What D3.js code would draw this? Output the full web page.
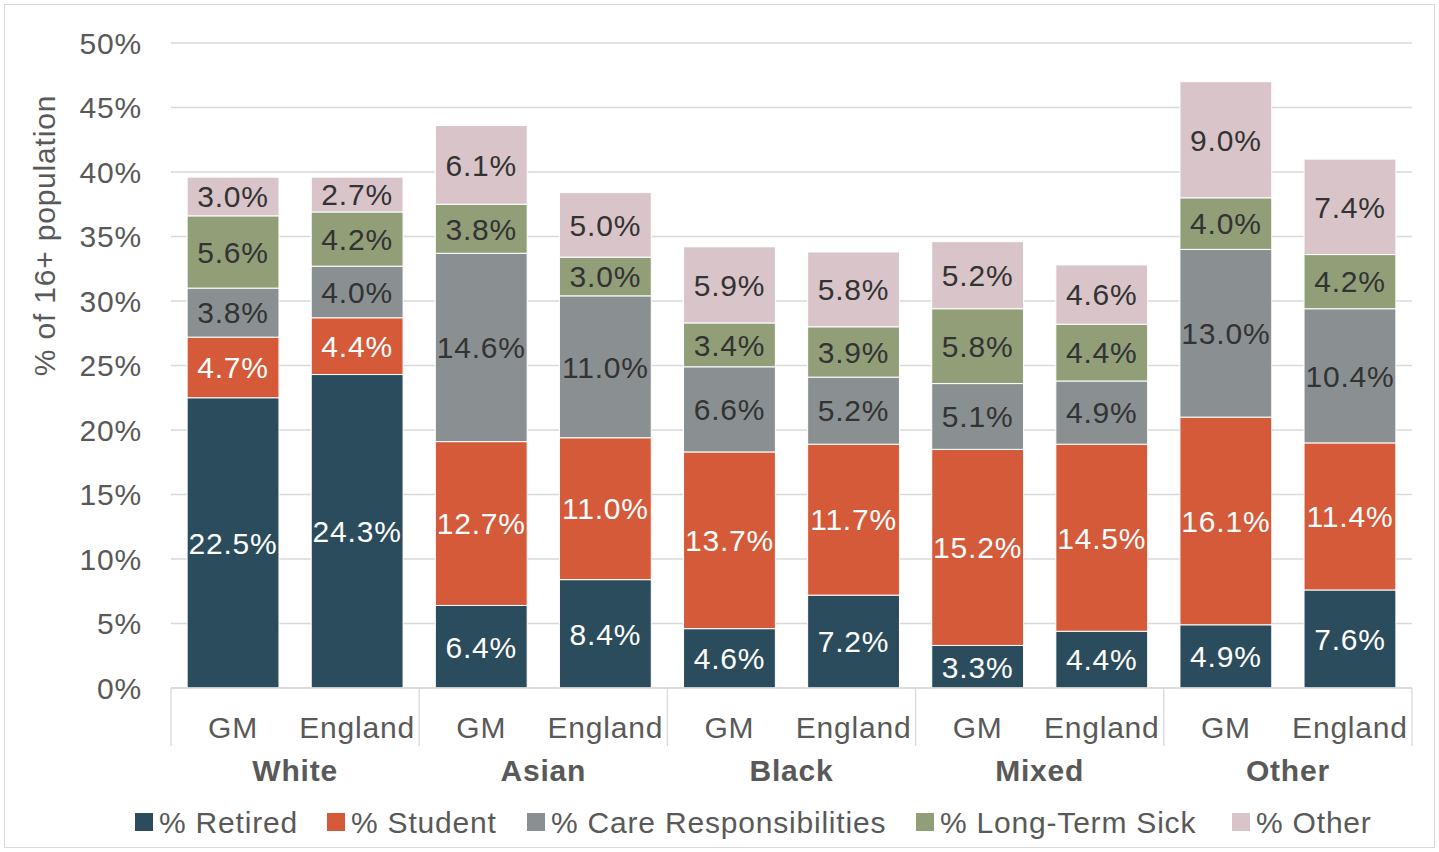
<!DOCTYPE html>
<html><head><meta charset="utf-8">
<script src="https://cdn.jsdelivr.net/npm/d3@7"></script>
<style>body{margin:0;background:#fff}svg{font-family:"Liberation Sans",Arial,sans-serif;letter-spacing:0.8px}</style>
</head><body>
<script>
// === DATA ===
const groups = ["White", "Asian", "Black", "Mixed", "Other"];
const areas = ["GM", "England"];
const seriesNames = ["% Retired", "% Student", "% Care Responsibilities", "% Long-Term Sick", "% Other"];
const retired = [22.5, 24.3, 6.4, 8.4, 4.6, 7.2, 3.3, 4.4, 4.9, 7.6];
const student = [4.7, 4.4, 12.7, 11.0, 13.7, 11.7, 15.2, 14.5, 16.1, 11.4];
const care = [3.8, 4.0, 14.6, 11.0, 6.6, 5.2, 5.1, 4.9, 13.0, 10.4];
const sick = [5.6, 4.2, 3.8, 3.0, 3.4, 3.9, 5.8, 4.4, 4.0, 4.2];
const other = [3.0, 2.7, 6.1, 5.0, 5.9, 5.8, 5.2, 4.6, 9.0, 7.4];
const yTicks = [0, 5, 10, 15, 20, 25, 30, 35, 40, 45, 50];

const colors = ["#2b4c5c", "#d45a3a", "#8a9091", "#919e78", "#d9c5c9"];
const textColors = ["#fff", "#fff", "#333", "#333", "#333"];

const W = 1439, H = 852;
const plotL = 171, plotR = 1412, plotT = 43, plotB = 688;

const rows = [];
groups.forEach((g, gi) => areas.forEach((a, ai) => {
  const i = gi * 2 + ai;
  rows.push({ key: g + "|" + a, group: g, area: a,
    values: [retired[i], student[i], care[i], sick[i], other[i]] });
}));

const svg = d3.select("body").append("svg").attr("width", W).attr("height", H);
svg.append("rect").attr("x", 4.5).attr("y", 4.5).attr("width", W - 9).attr("height", H - 9)
  .attr("fill", "none").attr("stroke", "#d9d9d9");

const x = d3.scaleBand().domain(rows.map(d => d.key)).range([plotL, plotR]).paddingInner(0.26).paddingOuter(0.13);
const y = d3.scaleLinear().domain([0, 50]).range([plotB, plotT]);

// gridlines + y labels
svg.append("g").selectAll("line").data(yTicks).join("line")
  .attr("x1", plotL).attr("x2", plotR).attr("y1", d => y(d)).attr("y2", d => y(d))
  .attr("stroke", "#d9d9d9").attr("stroke-width", 1.3);
svg.append("g").selectAll("text").data(yTicks).join("text")
  .attr("x", 142).attr("y", d => y(d)).attr("dy", "0.35em").attr("text-anchor", "end")
  .attr("font-size", 30).attr("fill", "#595959").text(d => d + "%");

svg.append("text").attr("transform", `translate(55,${(plotT + plotB) / 2 - 130}) rotate(-90)`)
  .attr("text-anchor", "middle").attr("font-size", 30).attr("fill", "#595959").text("% of 16+ population");

// stacked bars
const bars = svg.append("g").selectAll("g").data(rows).join("g");
bars.each(function (d) {
  let acc = 0;
  const segs = d.values.map((v, k) => { const s = { v, k, y0: acc, y1: acc + v }; acc += v; return s; });
  const g = d3.select(this);
  g.selectAll("rect").data(segs).join("rect")
    .attr("x", x(d.key)).attr("width", x.bandwidth())
    .attr("y", s => y(s.y1)).attr("height", s => y(s.y0) - y(s.y1))
    .attr("fill", s => colors[s.k]).attr("stroke", "#fff").attr("stroke-width", 1);
  g.selectAll("text").data(segs).join("text")
    .attr("x", x(d.key) + x.bandwidth() / 2).attr("y", s => y((s.y0 + s.y1) / 2)).attr("dy", "0.36em")
    .attr("text-anchor", "middle").attr("font-size", 30).attr("fill", s => textColors[s.k])
    .text(s => s.v.toFixed(1) + "%");
});

// category axis
const step = (plotR - plotL) / groups.length;
svg.append("line").attr("x1", plotL).attr("x2", plotR).attr("y1", plotB).attr("y2", plotB)
  .attr("stroke", "#d9d9d9").attr("stroke-width", 1.3);
svg.append("g").selectAll("line").data(d3.range(groups.length + 1)).join("line")
  .attr("x1", i => plotL + i * step).attr("x2", i => plotL + i * step)
  .attr("y1", plotB).attr("y2", 746).attr("stroke", "#d9d9d9").attr("stroke-width", 1.3);
svg.append("g").selectAll("text").data(rows).join("text")
  .attr("x", d => x(d.key) + x.bandwidth() / 2).attr("y", 727).attr("dy", "0.35em")
  .attr("text-anchor", "middle").attr("font-size", 30).attr("fill", "#595959").text(d => d.area);
svg.append("g").selectAll("text").data(groups).join("text")
  .attr("x", (d, i) => plotL + (i + 0.5) * step).attr("y", 770).attr("dy", "0.35em")
  .attr("text-anchor", "middle").attr("font-size", 30).attr("font-weight", "bold").attr("fill", "#595959").text(d => d);

// legend
const legX = [135, 327, 527, 916, 1232];
const leg = svg.append("g").selectAll("g").data(seriesNames).join("g")
  .attr("transform", (d, i) => `translate(${legX[i]},822)`);
leg.append("rect").attr("x", 0).attr("y", -9).attr("width", 18).attr("height", 18).attr("fill", (d, i) => colors[i]);
leg.append("text").attr("x", 24).attr("dy", "0.35em").attr("font-size", 30).attr("fill", "#595959").text(d => d);
</script>
</body></html>
